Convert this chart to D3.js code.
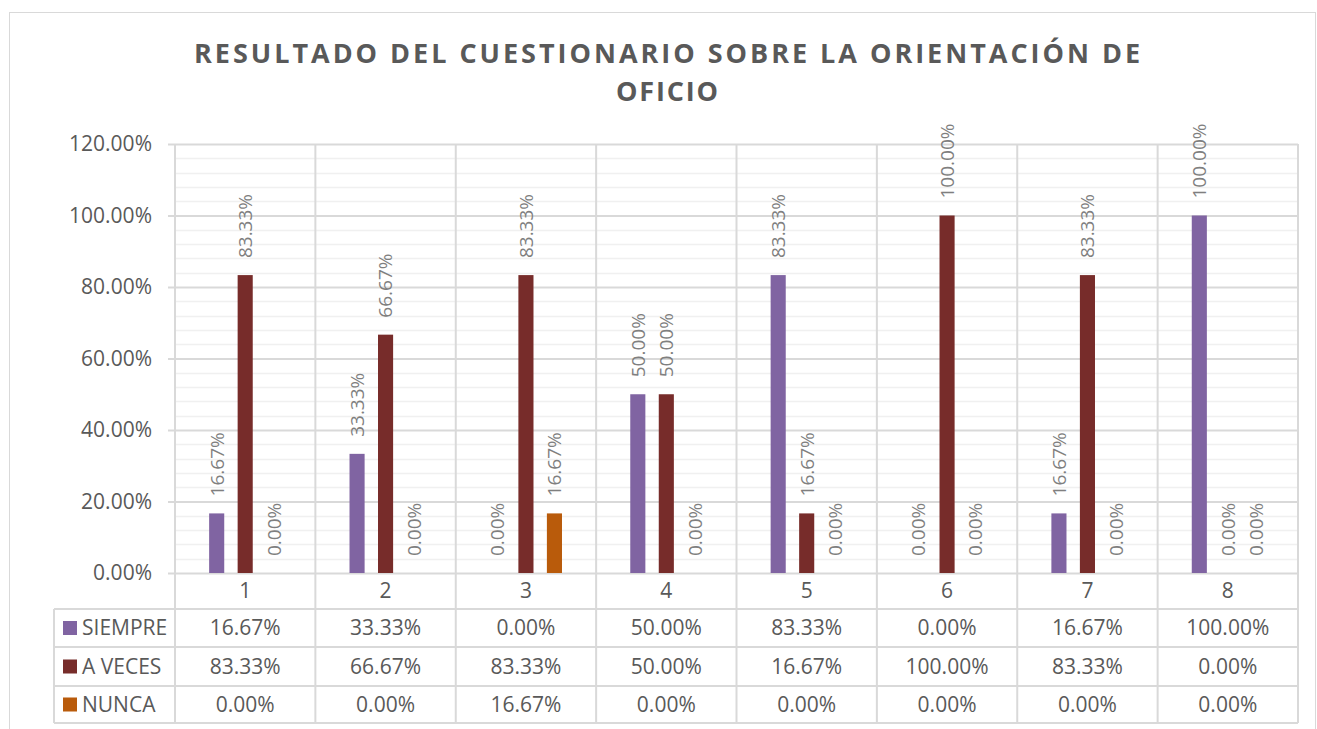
<!DOCTYPE html>
<html>
<head>
<meta charset="utf-8">
<script src="https://cdn.jsdelivr.net/npm/d3@7"></script>
<style>
  body { margin: 0; background: #fff; }
  svg { display: block; font-family: "Open Sans", sans-serif; }
</style>
</head>
<body>
<svg width="1317" height="729"></svg>
<script>
// datos del gráfico
var categories = ["1", "2", "3", "4", "5", "6", "7", "8"];
var seriesNames = ["SIEMPRE", "A VECES", "NUNCA"];
var siempre = [16.67, 33.33, 0, 50, 83.33, 0, 16.67, 100];
var aVeces = [83.33, 66.67, 83.33, 50, 16.67, 100, 83.33, 0];
var nunca = [0, 0, 16.67, 0, 0, 0, 0, 0];
var yTicks = [0, 20, 40, 60, 80, 100, 120];
var titleLines = ["RESULTADO DEL CUESTIONARIO SOBRE LA ORIENTACIÓN DE", "OFICIO"];

var colors = ["#8064A2", "#772C2A", "#B95B0B"];
var values = [siempre, aVeces, nunca];

var svg = d3.select("svg"),
    plot = {left: 175, right: 1298, top: 144, bottom: 573},
    tableLeft = 54,
    rowLines = [573, 609, 647, 686, 723];

var fmt = function(v) { return d3.format(".2f")(v) + "%"; };

// marco exterior
svg.append("rect")
    .attr("x", 9.5).attr("y", 12.5)
    .attr("width", 1306).attr("height", 730)
    .attr("fill", "#fff").attr("stroke", "#d9d9d9");

// título
svg.append("g").selectAll("text")
    .data(titleLines)
    .enter().append("text")
    .attr("x", 667)
    .attr("y", function(d, i) { return i == 0 ? 63 : 101; })
    .attr("text-anchor", "middle")
    .attr("font-size", 27)
    .attr("font-weight", "bold")
    .attr("fill", "#595959")
    .attr("textLength", function(d, i) { return i == 0 ? 946 : 102; })
    .attr("lengthAdjust", "spacing")
    .text(function(d) { return d; });

var x0 = d3.scaleBand().domain(categories).range([plot.left, plot.right]);
// barras de una categoría, relativas al centro de la categoría
var x1 = d3.scaleBand().domain(seriesNames).range([-42.75, 42.75])
    .paddingInner(0.47).paddingOuter(0.235);
var xc = function(c) { return x0(c) + x0.bandwidth() / 2; };

var y = d3.scaleLinear().domain([0, 120]).range([plot.bottom, plot.top]);

// líneas de división secundarias
var minor = d3.range(0, 121, 4).filter(function(v) { return v % 20 != 0; });
svg.append("g").selectAll("line")
    .data(minor)
    .enter().append("line")
    .attr("x1", plot.left).attr("x2", plot.right)
    .attr("y1", function(d) { return Math.round(y(d)) + 0.5; })
    .attr("y2", function(d) { return Math.round(y(d)) + 0.5; })
    .attr("stroke", "#f0f0f0").attr("stroke-width", 1.5);

// eje y
var yAxis = svg.append("g")
    .attr("transform", "translate(" + plot.left + ",0)")
    .call(d3.axisLeft(y).tickValues(yTicks).tickSize(7).tickPadding(16)
        .tickFormat(fmt));
yAxis.select(".domain").remove();
yAxis.selectAll(".tick line").attr("stroke", "#d9d9d9").attr("stroke-width", 2);
yAxis.selectAll(".tick text")
    .attr("font-family", "Open Sans, sans-serif")
    .attr("font-size", 21).attr("fill", "#595959");
yAxis.selectAll(".tick").append("line")
    .attr("x1", 0).attr("x2", plot.right - plot.left)
    .attr("stroke", "#d9d9d9").attr("stroke-width", 2);

// líneas verticales de categorías (plot + tabla)
var vlines = categories.map(function(c) { return x0(c); }).concat([plot.right]);
svg.append("g").selectAll("line")
    .data(vlines)
    .enter().append("line")
    .attr("x1", function(d) { return d; }).attr("x2", function(d) { return d; })
    .attr("y1", plot.top).attr("y2", rowLines[4])
    .attr("stroke", "#d9d9d9").attr("stroke-width", 2);

// líneas horizontales de la tabla
svg.append("g").selectAll("line")
    .data(rowLines.slice(1))
    .enter().append("line")
    .attr("x1", tableLeft).attr("x2", plot.right)
    .attr("y1", function(d) { return d; }).attr("y2", function(d) { return d; })
    .attr("stroke", "#d9d9d9").attr("stroke-width", 2);
svg.append("line")
    .attr("x1", tableLeft).attr("x2", tableLeft)
    .attr("y1", rowLines[1]).attr("y2", rowLines[4])
    .attr("stroke", "#d9d9d9").attr("stroke-width", 2);

// barras
var groups = svg.append("g").selectAll("g")
    .data(seriesNames)
    .enter().append("g")
    .attr("fill", function(d, i) { return colors[i]; });

var cells = function(d, i) {
  return categories.map(function(c, j) { return {cat: c, s: d, v: values[i][j]}; });
};

groups.selectAll("rect")
    .data(cells)
    .enter().append("rect")
    .attr("x", function(d) { return xc(d.cat) + x1(d.s); })
    .attr("y", function(d) { return y(d.v); })
    .attr("width", x1.bandwidth())
    .attr("height", function(d) { return y(0) - y(d.v); });

// etiquetas de datos
groups.selectAll("text")
    .data(cells)
    .enter().append("text")
    .attr("transform", function(d) {
      return "translate(" + (xc(d.cat) + x1(d.s) + x1.bandwidth() / 2) + "," + (y(d.v) - 17) + ") rotate(-90)";
    })
    .attr("dy", "0.36em")
    .attr("font-size", 19)
    .attr("fill", "#7f7f7f")
    .text(function(d) { return fmt(d.v); });

// tabla de datos: encabezado de categorías
svg.append("g").selectAll("text")
    .data(categories)
    .enter().append("text")
    .attr("x", xc)
    .attr("y", (rowLines[0] + rowLines[1]) / 2)
    .attr("dy", "0.35em")
    .attr("text-anchor", "middle")
    .attr("font-size", 21).attr("fill", "#595959")
    .text(function(d) { return d; });

// filas de la tabla
var rows = svg.append("g").selectAll("g")
    .data(seriesNames)
    .enter().append("g")
    .attr("transform", function(d, i) {
      return "translate(0," + (rowLines[i + 1] + rowLines[i + 2]) / 2 + ")";
    });

rows.append("rect")
    .attr("x", 63).attr("y", -7)
    .attr("width", 14).attr("height", 14)
    .attr("fill", function(d, i) { return colors[i]; });

rows.append("text")
    .attr("x", 82).attr("dy", "0.35em")
    .attr("font-size", 21).attr("fill", "#595959")
    .text(function(d) { return d; });

rows.selectAll("text.val")
    .data(function(d, i) { return values[i]; })
    .enter().append("text")
    .attr("class", "val")
    .attr("x", function(d, j) { return xc(categories[j]); })
    .attr("dy", "0.35em")
    .attr("text-anchor", "middle")
    .attr("font-size", 21).attr("fill", "#595959")
    .text(function(d) { return fmt(d); });
</script>
</body>
</html>
